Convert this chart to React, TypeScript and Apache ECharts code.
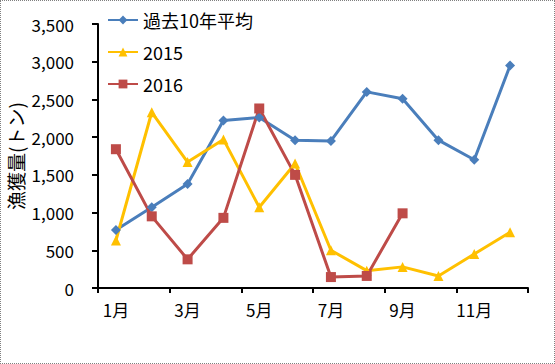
import React, { useEffect, useRef } from "react";
import * as echarts from "echarts";

const months = ["1月", "2月", "3月", "4月", "5月", "6月", "7月", "8月", "9月", "10月", "11月", "12月"];
const avg10 = [770, 1070, 1380, 2220, 2260, 1960, 1950, 2600, 2510, 1960, 1700, 2950];
const y2015 = [630, 2330, 1670, 1970, 1070, 1650, 500, 230, 280, 160, 450, 740];
const y2016 = [1840, 950, 380, 930, 2380, 1500, 145, 160, 990];
const yTicks = { min: 0, max: 3500, interval: 500 };

const FONT = "'Noto Sans CJK JP', 'Noto Sans', sans-serif";

export default function App() {
  const ref = useRef<HTMLDivElement>(null);
  useEffect(() => {
    if (!ref.current) return;
    const chart = echarts.init(ref.current, null, { renderer: "svg" });
    const line = (name: string, data: number[], color: string, symbol: string, size: number) => ({
      name,
      type: "line",
      data,
      symbol,
      symbolSize: size,
      itemStyle: { color },
      lineStyle: { color, width: 3 },
    });
    chart.setOption({
      animation: false,
      textStyle: { fontFamily: FONT },
      grid: { left: 97, right: 26, top: 23, bottom: 75, containLabel: false, outerBoundsMode: "none" },
      legend: {
        orient: "vertical",
        left: 106,
        top: 9,
        padding: 0,
        itemGap: 12,
        itemWidth: 30,
        itemHeight: 11,
        textStyle: { fontSize: 18, lineHeight: 20, color: "#000", fontFamily: FONT },
        data: ["過去10年平均", "2015", "2016"],
      },
      xAxis: {
        type: "category",
        data: months,
        boundaryGap: true,
        axisLine: { lineStyle: { color: "#000", width: 2 } },
        axisTick: { show: true, length: 5, lineStyle: { color: "#000", width: 2 } },
        axisLabel: { interval: 1, color: "#000", fontSize: 17, margin: 13, fontFamily: FONT },
        splitLine: { show: false },
      },
      yAxis: {
        type: "value",
        min: yTicks.min,
        max: yTicks.max,
        interval: yTicks.interval,
        name: "漁獲量(トン)",
        nameLocation: "middle",
        nameRotate: 90,
        nameGap: 73,
        nameMoveOverlap: false,
        nameTextStyle: { fontSize: 19, lineHeight: 20, color: "#000", fontFamily: FONT },
        axisLine: { show: true, lineStyle: { color: "#000", width: 2 } },
        axisTick: { show: true, length: 6, inside: false, lineStyle: { color: "#000", width: 2 } },
        axisLabel: {
          color: "#000",
          fontSize: 17,
          margin: 24,
          fontFamily: FONT,
          formatter: (v: number) => v.toLocaleString("en-US"),
        },
        splitLine: { show: false },
      },
      series: [
        line("過去10年平均", avg10, "#4A7EBB", "diamond", 10),
        line("2015", y2015, "#FFC000", "triangle", 10),
        line("2016", y2016, "#BE4B48", "rect", 10),
      ],
    });
    return () => chart.dispose();
  }, []);
  return (
    <div
      style={{
        position: "fixed",
        left: 0,
        top: 0,
        width: 555,
        height: 364,
        boxSizing: "border-box",
        border: "1px dotted #808080",
        background: "#fff",
      }}
    >
      <div ref={ref} style={{ width: 553, height: 362 }} />
    </div>
  );
}
